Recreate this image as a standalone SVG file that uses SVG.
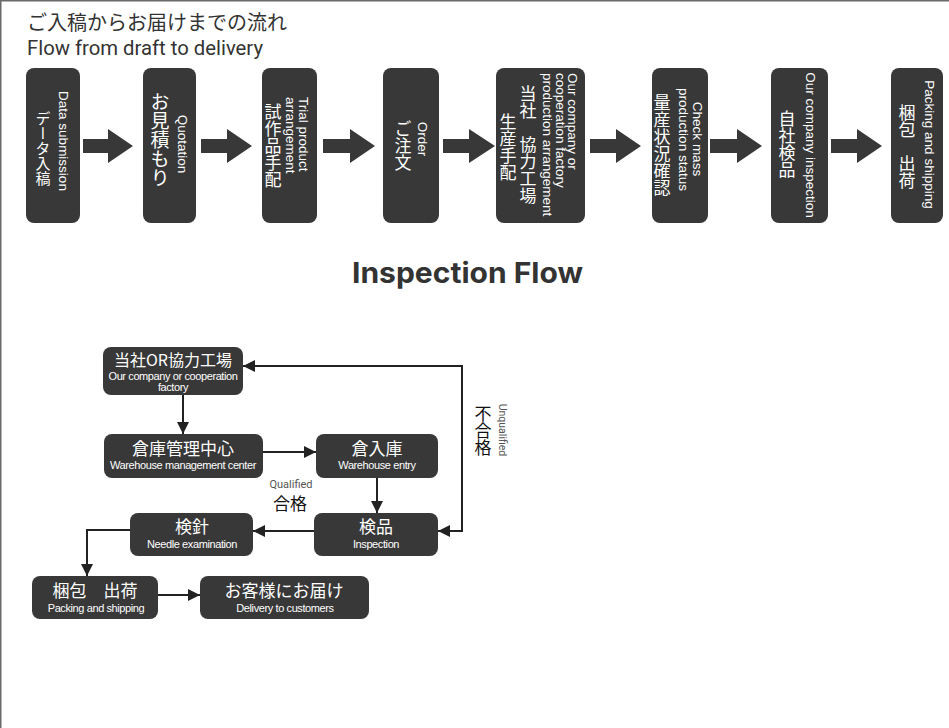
<svg xmlns="http://www.w3.org/2000/svg" width="949" height="728" viewBox="0 0 949 728">
<style>
.box{fill:#383838}
.barrow{fill:#383838}
.v{writing-mode:vertical-rl;fill:#fff}
.ve{font-family:"Liberation Sans",Arial,sans-serif;font-size:13.5px}
.vj{font-family:"Noto Sans CJK JP",sans-serif;font-size:17px}
.node{fill:#383838}
.nj{font-family:"Noto Sans CJK JP",sans-serif;font-size:17px;fill:#fff;text-anchor:middle}
.ne{font-family:"Liberation Sans",Arial,sans-serif;font-size:11px;fill:#fff;text-anchor:middle;letter-spacing:-0.4px}
.conn{fill:none;stroke:#222;stroke-width:2}
</style>
<defs>
<marker id="ah" markerUnits="userSpaceOnUse" markerWidth="13" markerHeight="12" refX="12" refY="6" orient="auto-start-reverse">
<path d="M0,0 L12,6 L0,12 z" fill="#222"/>
</marker>
</defs>
<rect width="949" height="728" fill="#fff"/>
<path d="M0.75,728 V0.75 H949" fill="none" stroke="#6a6a6a" stroke-width="1.5"/>

<g id="title">
<text x="27" y="29.5" font-family="Noto Sans CJK JP,sans-serif" font-size="20" fill="#333">ご入稿からお届けまでの流れ</text>
<text x="27" y="55" font-family="Roboto,sans-serif" font-size="20" fill="#333" textLength="236" lengthAdjust="spacingAndGlyphs">Flow from draft to delivery</text>
</g>

<g id="block-arrows">
<path class="barrow" d="M83,139 H108 V129 L133,146 L108,163 V153 H83 z"/>
<path class="barrow" d="M201,139 H227 V129 L252,146 L227,163 V153 H201 z"/>
<path class="barrow" d="M323,139 H350 V129 L375,146 L350,163 V153 H323 z"/>
<path class="barrow" d="M443,139 H469 V129 L495,146 L469,163 V153 H443 z"/>
<path class="barrow" d="M590,139 H616 V129 L641,146 L616,163 V153 H590 z"/>
<path class="barrow" d="M710,139 H737 V129 L762,146 L737,163 V153 H710 z"/>
<path class="barrow" d="M831,139 H857 V129 L882,146 L857,163 V153 H831 z"/>
</g>

<g id="step1">
<rect class="box" x="26" y="68" width="54" height="155" rx="8"/>
<text class="v ve" x="63" y="141" text-anchor="middle">Data submission</text>
<text class="v vj" x="43" y="148" text-anchor="middle" style="font-size:15px">データ入稿</text>
</g>
<g id="step2">
<rect class="box" x="143" y="68" width="53" height="155" rx="8"/>
<text class="v ve" x="182" y="144" text-anchor="middle">Quotation</text>
<text class="v vj" x="160" y="140" text-anchor="middle" style="font-size:19px">お見積もり</text>
</g>
<g id="step3">
<rect class="box" x="262" y="68" width="55" height="155" rx="8"/>
<text class="v ve" x="303" y="97">Trial product</text>
<text class="v ve" x="290" y="97">arrangement</text>
<text class="v vj" x="273" y="146" text-anchor="middle">試作品手配</text>
</g>
<g id="step4">
<rect class="box" x="383" y="68" width="56" height="155" rx="8"/>
<text class="v ve" x="422" y="139" text-anchor="middle">Order</text>
<text class="v vj" x="403" y="146" text-anchor="middle">ご注文</text>
</g>
<g id="step5">
<rect class="box" x="496" y="68" width="89" height="155" rx="8"/>
<text class="v ve" x="572" y="73">Our company or</text>
<text class="v ve" x="560" y="73">cooperation factory</text>
<text class="v ve" x="547" y="73">production arrangement</text>
<text class="v vj" x="528" y="145" text-anchor="middle">当社　協力工場</text>
<text class="v vj" x="508" y="147" text-anchor="middle">生産手配</text>
</g>
<g id="step6">
<rect class="box" x="652" y="68" width="56" height="155" rx="8"/>
<text class="v ve" x="697" y="139" text-anchor="middle">Check mass</text>
<text class="v ve" x="683" y="139.5" text-anchor="middle">production status</text>
<text class="v vj" x="662" y="145" text-anchor="middle">量産状況確認</text>
</g>
<g id="step7">
<rect class="box" x="771" y="68" width="57" height="155" rx="8"/>
<text class="v ve" x="810" y="145" text-anchor="middle">Our company inspection</text>
<text class="v vj" x="787" y="144" text-anchor="middle">自社検品</text>
</g>
<g id="step8">
<rect class="box" x="891" y="68" width="52" height="155" rx="8"/>
<text class="v ve" x="929" y="144.5" text-anchor="middle">Packing and shipping</text>
<text class="v vj" x="907" y="146.5" text-anchor="middle">梱包　出荷</text>
</g>

<g id="inspection-title">
<text x="352" y="283" font-family="Inter,sans-serif" font-weight="700" font-size="29" fill="#333" textLength="231" lengthAdjust="spacingAndGlyphs">Inspection Flow</text>
</g>

<g id="connectors">
<path class="conn" d="M183,395 V434" marker-end="url(#ah)"/>
<path class="conn" d="M263,452 H316" marker-end="url(#ah)"/>
<path class="conn" d="M377,478 V513" marker-end="url(#ah)"/>
<path class="conn" d="M314,531 H253" marker-end="url(#ah)"/>
<path class="conn" d="M130,530 H87 V576" marker-end="url(#ah)"/>
<path class="conn" d="M158,595 H200" marker-end="url(#ah)"/>
<path class="conn" d="M438,531 H462 V366 H243" marker-start="url(#ah)" marker-end="url(#ah)"/>
<text x="291" y="488" font-family="Roboto,sans-serif" font-size="11" fill="#555" text-anchor="middle">Qualified</text>
<text x="290" y="510" font-family="Noto Sans CJK JP,sans-serif" font-size="17" fill="#111" text-anchor="middle">合格</text>
<text x="483" y="431" font-family="Noto Sans CJK JP,sans-serif" font-size="17" fill="#111" text-anchor="middle" style="writing-mode:vertical-rl">不合格</text>
<text x="502" y="430" font-family="Roboto,sans-serif" font-size="10.5" fill="#555" text-anchor="middle" style="writing-mode:vertical-rl">Unqualified</text>
</g>

<g id="n-factory">
<rect class="node" x="103" y="347" width="140" height="48" rx="8"/>
<text class="nj" x="173" y="366" style="font-size:16px">当社OR協力工場</text>
<text class="ne" x="173" y="379.5">Our company or cooperation</text>
<text class="ne" x="173" y="391">factory</text>
</g>
<g id="n-warehouse-center">
<rect class="node" x="104" y="434" width="159" height="44" rx="8"/>
<text class="nj" x="183" y="455">倉庫管理中心</text>
<text class="ne" x="183" y="469">Warehouse management center</text>
</g>
<g id="n-warehouse-entry">
<rect class="node" x="316" y="434" width="122" height="44" rx="8"/>
<text class="nj" x="377" y="455">倉入庫</text>
<text class="ne" x="377" y="469">Warehouse entry</text>
</g>
<g id="n-inspection">
<rect class="node" x="314" y="513" width="124" height="43" rx="8"/>
<text class="nj" x="376" y="533">検品</text>
<text class="ne" x="376" y="548">Inspection</text>
</g>
<g id="n-needle">
<rect class="node" x="130" y="513" width="123" height="43" rx="8"/>
<text class="nj" x="192" y="533">検針</text>
<text class="ne" x="192" y="548">Needle examination</text>
</g>
<g id="n-packing">
<rect class="node" x="32" y="576" width="126" height="43" rx="8"/>
<text class="nj" x="95" y="597">梱包　出荷</text>
<text class="ne" x="96" y="612">Packing and shipping</text>
</g>
<g id="n-delivery">
<rect class="node" x="200" y="576" width="169" height="43" rx="8"/>
<text class="nj" x="284" y="597">お客様にお届け</text>
<text class="ne" x="285" y="612">Delivery to customers</text>
</g>
</svg>
